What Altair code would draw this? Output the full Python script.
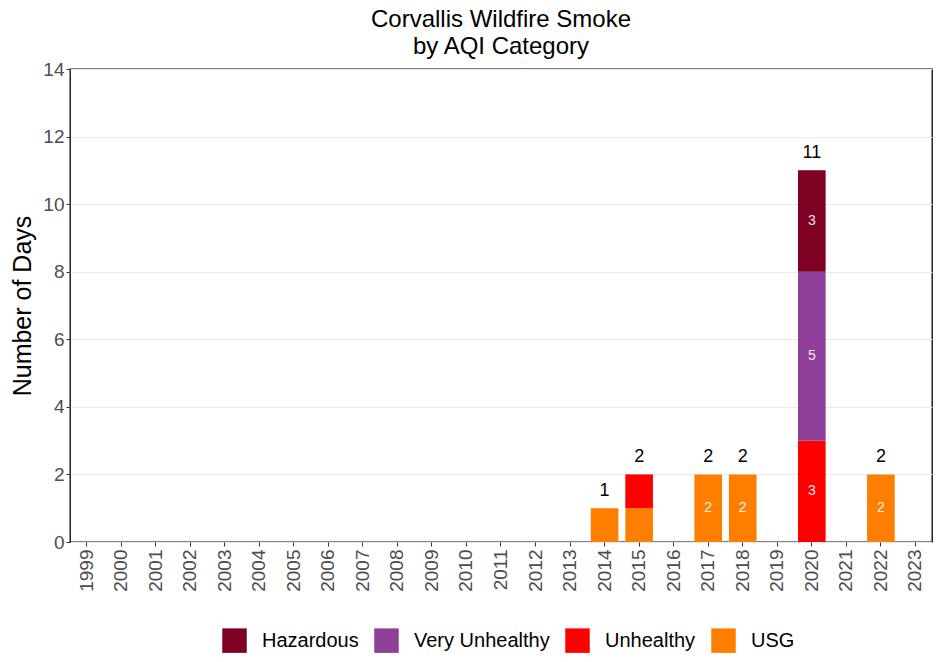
import altair as alt
import pandas as pd

years = ["1999", "2000", "2001", "2002", "2003", "2004", "2005", "2006", "2007",
         "2008", "2009", "2010", "2011", "2012", "2013", "2014", "2015", "2016",
         "2017", "2018", "2019", "2020", "2021", "2022", "2023"]

bar_years = ["2014", "2015", "2015", "2017", "2018", "2020", "2020", "2020", "2022"]
bar_cats = ["USG", "USG", "Unhealthy", "USG", "USG", "Unhealthy", "Very Unhealthy", "Hazardous", "USG"]
bar_days = [1, 1, 1, 2, 2, 3, 5, 3, 2]

categories = ["Hazardous", "Very Unhealthy", "Unhealthy", "USG"]
cat_colors = ["#7E0023", "#8F3F97", "#FF0000", "#FF7E00"]
stack_rank = {"USG": 1, "Unhealthy": 2, "Very Unhealthy": 3, "Hazardous": 4}

y_ticks = [0, 1, 2, 3, 4, 5, 6, 7, 8, 9, 10, 11, 12, 13, 14]

df = pd.DataFrame({"year": bar_years, "cat": bar_cats, "days": bar_days})
df["rank"] = df["cat"].map(stack_rank)

FONT = "Liberation Sans"

x_enc = alt.X("year:N", scale=alt.Scale(domain=years, paddingInner=0.2, paddingOuter=0.08),
              axis=alt.Axis(title=None, labelAngle=270, labelAlign="right", labelBaseline="middle",
                            labelFontSize=19, labelColor="#4D4D4D", labelPadding=3,
                            tickColor="#333333", tickSize=4, domain=False, grid=False,
                            labelFont=FONT))
y_scale = alt.Scale(domain=[0, 14], nice=False, zero=True)

base = alt.Chart(df)

bars = base.mark_bar().encode(
    x=x_enc,
    y=alt.Y("days:Q", stack="zero", scale=y_scale,
            axis=alt.Axis(title="Number of Days", values=y_ticks,
                          labelExpr="datum.value % 2 ? '' : datum.label",
                          tickOpacity={"condition": {"test": "datum.value % 2 === 1", "value": 0}, "value": 1},
                          labelFontSize=19, labelColor="#4D4D4D", labelFont=FONT,
                          titleFontSize=25, titleFont=FONT, titleFontWeight="normal",
                          titleColor="#000000", titlePadding=7,
                          tickColor="#333333", tickSize=4, domain=False,
                          grid=True, gridColor="#EBEBEB", gridWidth=1)),
    color=alt.Color("cat:N", scale=alt.Scale(domain=categories, range=cat_colors),
                    legend=alt.Legend(title=None, orient="none", direction="horizontal",
                                      legendX=152, legendY=559,
                                      symbolType="square", symbolSize=600,
                                      symbolStrokeWidth=0, symbolOpacity=1,
                                      labelFontSize=20, labelFont=FONT, labelColor="#000000",
                                      columnPadding=15, labelOffset=15)),
    order=alt.Order("rank:Q", sort="ascending"),
)

seg = base.transform_window(
    cum="sum(days)", sort=[alt.SortField("rank", order="ascending")], groupby=["year"],
    frame=[None, 0]
).transform_calculate(
    mid="datum.cum - datum.days / 2"
).transform_filter("datum.days > 1").mark_text(
    color="white", opacity=0.9, fontSize=14, font=FONT, baseline="middle"
).encode(
    x=alt.X("year:N", scale=alt.Scale(domain=years)),
    y=alt.Y("mid:Q", scale=y_scale),
    text="days:Q",
)

totals = base.transform_aggregate(
    total="sum(days)", groupby=["year"]
).mark_text(color="black", fontSize=18, font=FONT, baseline="bottom", dy=-8).encode(
    x=alt.X("year:N", scale=alt.Scale(domain=years)),
    y=alt.Y("total:Q", scale=y_scale),
    text="total:Q",
)

chart = alt.layer(bars, seg, totals).properties(
    width=862, height=473,
    background="white",
    title=alt.TitleParams(text=["Corvallis Wildfire Smoke", "by AQI Category"],
                          fontSize=24, font=FONT, fontWeight="normal", color="#000000",
                          anchor="middle", lineHeight=27, offset=1),
    autosize=alt.AutoSizeParams(type="none"),
    padding={"left": 62, "top": 61, "right": 1, "bottom": 112},
).configure_view(stroke="#000000", strokeWidth=1.3)

chart.save("out.html", embed_options={"renderer": "svg", "actions": False})
